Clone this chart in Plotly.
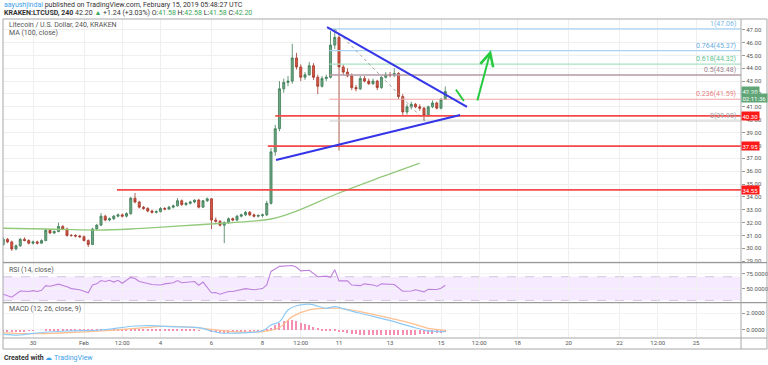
import pandas as pd
import plotly.graph_objects as go

# ---------------- data ----------------
candle_start = "2019-01-28 20:00"
opens = [30.30,30.70,30.50,29.95,30.20,30.70,30.60,30.40,30.50,30.40,
         30.60,31.40,31.20,31.30,31.70,31.50,31.00,31.00,30.95,30.90,
         30.60,30.30,31.50,31.80,32.50,32.20,32.30,32.50,32.60,32.50,
         32.70,33.90,33.60,33.20,33.10,32.90,32.80,32.85,33.10,33.05,
         33.20,33.30,33.70,33.40,33.50,33.60,33.75,33.20,33.70,33.85,
         32.20,32.10,31.80,32.00,32.30,32.20,32.50,32.60,32.80,32.60,
         32.50,32.55,32.60,33.50,37.50,39.30,42.40,42.90,43.00,44.80,
         44.10,43.30,43.50,44.20,43.30,42.60,43.20,43.30,45.80,46.40,
         44.10,43.70,43.40,42.50,42.40,43.20,43.00,42.80,43.00,42.50,
         43.30,43.50,43.45,43.60,41.80,40.60,41.00,41.20,41.00,40.90,
         40.30,41.00,41.30,40.90,41.58]
highs = [30.85,30.80,30.60,30.30,30.80,30.85,30.70,30.60,30.60,30.70,
         31.55,31.50,31.40,32.00,31.80,31.60,31.10,31.10,31.05,31.00,
         30.70,31.60,31.90,32.75,32.60,32.40,32.60,32.70,32.70,32.80,
         34.00,34.30,33.70,33.30,33.20,33.00,32.95,33.20,33.20,33.30,
         33.40,33.90,33.80,33.60,33.70,33.80,33.85,33.75,33.95,33.90,
         32.40,32.20,32.10,32.40,32.40,32.60,32.70,32.90,32.90,32.70,
         32.65,32.70,33.70,37.80,39.60,43.00,43.20,43.40,45.90,45.20,
         44.30,43.70,44.50,44.40,43.50,43.40,43.50,46.90,47.06,46.60,
         44.30,44.00,43.60,42.70,43.40,43.40,43.20,43.20,43.10,43.40,
         43.70,43.70,44.00,43.70,42.00,41.20,41.40,41.30,41.20,41.00,
         41.10,41.50,41.40,41.70,42.58]
lows = [30.20,30.40,29.80,29.85,30.10,30.55,30.30,30.30,30.30,30.35,
        30.55,31.10,31.10,31.25,31.40,30.90,30.90,30.85,30.80,30.55,
        30.10,30.25,31.40,31.75,32.10,32.10,32.20,32.40,32.40,32.40,
        32.60,33.50,33.10,33.00,32.80,32.70,32.70,32.80,32.95,33.00,
        33.10,33.25,33.30,33.30,33.40,33.50,33.10,33.15,33.60,31.50,
        32.00,31.70,30.40,31.90,32.10,32.10,32.40,32.50,32.50,32.40,
        32.40,32.40,32.50,33.40,37.20,39.10,42.10,42.60,42.80,43.90,
        43.00,43.10,43.40,43.10,42.00,42.50,43.00,43.20,45.50,37.60,
        43.50,43.30,42.30,42.20,42.30,42.90,42.70,42.70,42.30,42.40,
        43.20,43.30,43.30,41.60,40.30,40.40,40.80,40.90,40.70,39.90,
        40.20,40.90,40.80,40.80,41.58]
closes = [30.70,30.50,29.95,30.20,30.70,30.60,30.40,30.50,30.40,30.60,
          31.40,31.20,31.30,31.70,31.50,31.00,31.00,30.95,30.90,30.60,
          30.30,31.50,31.80,32.50,32.20,32.30,32.50,32.60,32.50,32.70,
          33.90,33.60,33.20,33.10,32.90,32.80,32.85,33.10,33.05,33.20,
          33.30,33.70,33.40,33.50,33.60,33.75,33.20,33.70,33.85,32.20,
          32.10,31.80,32.00,32.30,32.20,32.50,32.60,32.80,32.60,32.50,
          32.55,32.60,33.50,37.50,39.30,42.40,42.90,43.00,44.80,44.10,
          43.30,43.50,44.20,43.30,42.60,43.20,43.30,45.80,46.40,44.10,
          43.70,43.40,42.50,42.40,43.20,43.00,42.80,43.00,42.50,43.30,
          43.50,43.45,43.60,41.80,40.60,41.00,41.20,41.00,40.90,40.30,
          41.00,41.30,40.90,41.58,42.20]

ma_idx = [0, 10, 22, 30, 39, 47, 54, 60, 63, 66, 70, 79, 89, 98]
ma_val = [31.56, 31.50, 31.42, 31.50, 31.68, 31.85, 32.00, 32.15, 32.28, 32.55, 33.03, 34.30, 35.55, 36.63]

rsi_idx = [0,2,4,6,7,8,9,10,11,13,15,16,18,20,21,22,23,24,25,26,27,28,30,31,32,34,35,37,38,40,
           41,42,44,45,46,47,49,50,51,53,54,56,57,59,61,62,63,65,68,69,70,72,74,76,77,78,79,81,
           82,84,85,87,88,89,91,92,94,96,97,99,100,102,103,104]
rsi_val = [40.5,35.4,46,45,46.5,45,47,55,54,57.5,53,50,48,43,56,58,63.6,62,64,61,64,59,69,67,62,59,57,56,58,60,
           63.5,60,61,62,55.6,61,43,43.5,40.5,45,45,47.5,50,48,50,56,79,87.5,89,86,80,81,70,71,69,82,63,63,
           56,55,58,56,54,58,57.5,57,45.5,46,48,44.5,49,48.5,50.5,55.6]

macd_idx = [0,4,7,15,23,31,35,39,46,49,51,54,61,63,65,67,69,72,76,78,81,84,92,96,100,104]
macd_val = [-0.52,-0.6,-0.4,-0.12,0.0,0.48,0.52,0.4,0.28,-0.12,-0.36,-0.38,-0.1,0.6,1.0,2.4,2.9,3.1,2.6,2.8,2.4,2.0,1.0,0.4,-0.1,-0.2]
signal_idx = [0,7,23,35,39,46,54,61,65,68,72,76,79,84,92,96,100,104]
signal_val = [-0.35,-0.45,-0.1,0.35,0.45,0.25,-0.2,-0.2,0.3,1.6,2.4,2.6,2.6,2.2,1.3,0.8,0.2,-0.05]
hist_val = [-0.2,-0.25,-0.2,-0.15,-0.1,-0.1,-0.05,-0.05,0.0,0.0,
            0.05,0.08,0.1,0.12,0.12,0.1,0.1,0.08,0.06,0.05,
            0.05,0.08,0.1,0.12,0.14,0.15,0.15,0.14,0.13,0.12,
            0.15,0.15,0.14,0.12,0.1,0.1,0.08,0.08,0.06,0.06,
            0.06,0.06,0.05,0.05,0.05,0.04,0.02,0.0,0.0,-0.15,
            -0.22,-0.28,-0.3,-0.28,-0.25,-0.2,-0.15,-0.12,-0.1,-0.08,
            -0.05,-0.02,0.1,0.3,0.6,0.9,1.1,1.2,1.2,1.1,
            0.9,0.7,0.6,0.4,0.25,0.15,0.1,0.1,0.05,-0.1,
            -0.2,-0.35,-0.45,-0.5,-0.55,-0.55,-0.6,-0.6,-0.6,-0.6,
            -0.6,-0.6,-0.6,-0.6,-0.6,-0.6,-0.55,-0.55,-0.5,-0.5,
            -0.45,-0.4,-0.35,-0.3,-0.25]

tick_dates = ["2019-01-30", "2019-02-01", "2019-02-02 12:00", "2019-02-04", "2019-02-06", "2019-02-08",
              "2019-02-09 12:00", "2019-02-11", "2019-02-13", "2019-02-15", "2019-02-16 12:00",
              "2019-02-18", "2019-02-20", "2019-02-22", "2019-02-23 12:00", "2019-02-25"]
tick_text = ["30", "Feb", "12:00", "4", "6", "8", "12:00", "11", "13", "15", "12:00", "18", "20", "22", "12:00", "25"]

sr_levels = [40.30, 37.95, 34.55]
sr_starts = ["2019-02-08 12:00", "2019-02-08 05:00", "2019-02-02 07:00"]

fib_ratios = ["1", "0.764", "0.618", "0.5", "0.236", "0"]
fib_prices = [47.06, 45.37, 44.32, 43.48, 41.59, 39.90]
fib_colors = ["#a9d3f2", "#a9d3f2", "#a8e2c4", "#b59aa6", "#f2a3a3", "#c8c8c8"]
fib_text_colors = ["#7ab8e6", "#6aaee0", "#5cc48f", "#9c7f8c", "#e88080", "#a0a0a0"]
fib_start = "2019-02-10 15:00"

x_range = ["2019-01-28 19:46", "2019-02-26 18:21"]

dates = pd.date_range(candle_start, periods=len(closes), freq="4h")

# ---------------- figure ----------------
fig = go.Figure()

fig.add_trace(go.Candlestick(
    x=dates, open=opens, high=highs, low=lows, close=closes,
    increasing=dict(fillcolor="#6ba583", line=dict(color="#3f7d57", width=0.8)),
    decreasing=dict(fillcolor="#d75442", line=dict(color="#a33a2c", width=0.8)),
    whiskerwidth=0, hoverinfo="skip", showlegend=False, xaxis="x", yaxis="y"))

fig.add_trace(go.Scatter(x=dates[ma_idx], y=ma_val, mode="lines", line=dict(color="#92c97a", width=1.3),
                         line_shape="spline", hoverinfo="skip", showlegend=False, xaxis="x", yaxis="y"))

fig.add_trace(go.Scatter(x=dates[rsi_idx], y=rsi_val, mode="lines", line=dict(color="#bf82dc", width=1.1),
                         hoverinfo="skip", showlegend=False, xaxis="x", yaxis="y2"))

fig.add_trace(go.Bar(x=dates, y=hist_val, marker=dict(color="#f48fb1", line=dict(width=0)),
                     width=4 * 3600 * 1000 * 0.3, hoverinfo="skip", showlegend=False, xaxis="x", yaxis="y3"))
fig.add_trace(go.Scatter(x=dates[signal_idx], y=signal_val, mode="lines", line=dict(color="#ffbf8f", width=1.2),
                         line_shape="spline", hoverinfo="skip", showlegend=False, xaxis="x", yaxis="y3"))
fig.add_trace(go.Scatter(x=dates[macd_idx], y=macd_val, mode="lines", line=dict(color="#8ccaf7", width=1.2),
                         line_shape="spline", hoverinfo="skip", showlegend=False, xaxis="x", yaxis="y3"))

shapes = []
annos = []

shapes.append(dict(type="rect", xref="paper", yref="y2", x0=0, x1=1, y0=30, y1=70,
                   fillcolor="rgba(170,80,255,0.12)", line=dict(width=0), layer="below"))
for lv in (30, 70):
    shapes.append(dict(type="line", xref="paper", yref="y2", x0=0, x1=1, y0=lv, y1=lv,
                       line=dict(color="#c9b8d6", width=0.8, dash="dash"), layer="below"))

for r, p, c, tc in zip(fib_ratios, fib_prices, fib_colors, fib_text_colors):
    shapes.append(dict(type="line", xref="x", yref="y", x0=fib_start, x1=x_range[1], y0=p, y1=p,
                       line=dict(color=c, width=1.5 if r == "0.5" else 1.2)))
    annos.append(dict(xref="paper", yref="y", x=0.9955, y=p, xanchor="right", yanchor="bottom",
                      text=f"{r}({p:.2f})", showarrow=False, font=dict(size=7, color=tc), yshift=-1))
shapes.append(dict(type="line", xref="x", yref="y", x0="2019-02-10 20:00", x1="2019-02-14 09:00",
                   y0=fib_prices[0], y1=fib_prices[-1], line=dict(color="#a0a0a0", width=1, dash="dot")))

for p, s in zip(sr_levels, sr_starts):
    shapes.append(dict(type="line", xref="x", yref="y", x0=s, x1=x_range[1], y0=p, y1=p,
                       line=dict(color="#f44a4a", width=1.8)))
    annos.append(dict(xref="paper", yref="y", x=1.0, y=p, xanchor="left", yanchor="middle",
                      text=f"{p:.2f}", showarrow=False, font=dict(size=6, color="white"),
                      bgcolor="#ff1a1a", borderpad=0.5))

shapes.append(dict(type="line", xref="x", yref="y", x0="2019-02-10 12:45", y0=47.2,
                   x1="2019-02-16 00:30", y1=40.99, line=dict(color="#3434e8", width=2)))
shapes.append(dict(type="line", xref="x", yref="y", x0="2019-02-08 12:45", y0=36.87,
                   x1="2019-02-15 18:00", y1=40.37, line=dict(color="#3434e8", width=2)))

shapes.append(dict(type="line", xref="x", yref="y", x0="2019-02-15 14:00", y0=42.35,
                   x1="2019-02-15 21:30", y1=41.45, line=dict(color="#27c93f", width=2)))
annos.append(dict(xref="x", yref="y", axref="x", ayref="y", x="2019-02-16 23:00", y=45.42,
                  ax="2019-02-16 09:50", ay=41.38, text="", showarrow=True, arrowhead=5,
                  arrowsize=1.3, arrowwidth=2, arrowcolor="#27c93f", standoff=0))

annos.append(dict(xref="paper", yref="y", x=1.0, y=42.20, xanchor="left", yanchor="middle",
                  text="42.20", showarrow=False, font=dict(size=6, color="white"),
                  bgcolor="#5fa576", borderpad=0.5))
annos.append(dict(xref="paper", yref="y", x=1.0, y=42.20, xanchor="left", yanchor="middle", yshift=-7,
                  text="02:11:36", showarrow=False, font=dict(size=6, color="white"),
                  bgcolor="#5fa576", borderpad=0.5))

fx = 1.0352
fb = -0.0345
frame_col = "#a8a8a8"
for (x0, y0, x1, y1, c, w) in [
    (0, 1, fx, 1, frame_col, 1), (0, fb, fx, fb, frame_col, 1),
    (0, fb, 0, 1, frame_col, 1), (fx, fb, fx, 1, frame_col, 1),
    (1, fb, 1, 1, frame_col, 1), (0, 0, fx, 0, frame_col, 1),
    (0, 0.236, fx, 0.236, "#9a9a9a", 1.2), (0, 0.1107, fx, 0.1107, "#9a9a9a", 1.2)]:
    shapes.append(dict(type="line", xref="paper", yref="paper", x0=x0, y0=y0, x1=x1, y1=y1,
                       line=dict(color=c, width=w)))

F = "Roboto, Open Sans, sans-serif"
annos += [
    dict(xref="paper", yref="paper", x=-0.0014, y=1.0439, xanchor="left", yanchor="middle", showarrow=False,
         text="<span style='color:#3ea0e8'>aayushjindal</span> published on TradingView.com, February 15, 2019 05:48:27 UTC",
         font=dict(size=7, color="#333", family=F)),
    dict(xref="paper", yref="paper", x=-0.0014, y=1.0188, xanchor="left", yanchor="middle", showarrow=False,
         text="<b>KRAKEN:LTCUSD, 240</b> 42.20 <span style='color:#3aa657'>▲</span> +1.24 (+3.03%) O:<span style='color:#3aa657'>41.58</span> H:<span style='color:#3aa657'>42.58</span> L:<span style='color:#3aa657'>41.58</span> C:<span style='color:#3aa657'>42.20</span>",
         font=dict(size=7, color="#333", family=F)),
    dict(xref="paper", yref="paper", x=0.0054, y=0.981, xanchor="left", yanchor="middle", showarrow=False,
         text="Litecoin / U.S. Dollar, 240, KRAKEN", font=dict(size=7, color="#555", family=F)),
    dict(xref="paper", yref="paper", x=0.0054, y=0.956, xanchor="left", yanchor="middle", showarrow=False,
         text="MA (100, close)", font=dict(size=7, color="#555", family=F)),
    dict(xref="paper", yref="paper", x=0.0054, y=0.213, xanchor="left", yanchor="middle", showarrow=False,
         text="RSI (14, close)", font=dict(size=7, color="#555", family=F)),
    dict(xref="paper", yref="paper", x=0.0054, y=0.0909, xanchor="left", yanchor="middle", showarrow=False,
         text="MACD (12, 26, close, 9)", font=dict(size=7, color="#555", family=F)),
    dict(xref="paper", yref="paper", x=-0.0014, y=-0.0627, xanchor="left", yanchor="middle", showarrow=False,
         text="<b>Created with</b> <span style='color:#3ea0e8'>☁ TradingView</span>",
         font=dict(size=7, color="#333", family=F)),
]

price_ticks = list(range(29, 48))
fig.update_layout(
    width=768, height=365,
    margin=dict(l=3, r=27, t=19, b=27, pad=0),
    paper_bgcolor="white", plot_bgcolor="white",
    font=dict(family=F, size=6, color="#555"),
    showlegend=False, bargap=0,
    xaxis=dict(domain=[0, 1], anchor="y3", type="date", range=x_range, rangeslider=dict(visible=False),
               tickvals=tick_dates, ticktext=tick_text, showgrid=True, gridcolor="#efefef", gridwidth=1,
               ticks="", tickfont=dict(size=6, color="#555"), showline=False, zeroline=False, fixedrange=True),
    yaxis=dict(domain=[0.236, 1], side="right", range=[28.88, 47.83], tickvals=price_ticks,
               ticktext=[f"{v:.2f}" for v in price_ticks], showgrid=True, gridcolor="#efefef",
               ticks="outside", ticklen=3, tickcolor="#999", tickfont=dict(size=6, color="#555"),
               zeroline=False, showline=False, automargin=False),
    yaxis2=dict(domain=[0.1107, 0.236], side="right", anchor="x", range=[26.2, 93.7], tickvals=[50, 75],
                ticktext=["50.0000", "75.0000"], showgrid=True, gridcolor="#f3f3f3", automargin=False,
                ticks="outside", ticklen=3, tickcolor="#999", tickfont=dict(size=6, color="#555"), zeroline=False),
    yaxis3=dict(domain=[0, 0.1107], side="right", anchor="x", range=[-0.96, 3.27], tickvals=[0, 2],
                ticktext=["0.0000", "2.0000"], showgrid=True, gridcolor="#f3f3f3", automargin=False,
                ticks="outside", ticklen=3, tickcolor="#999", tickfont=dict(size=6, color="#555"), zeroline=False),
    shapes=shapes, annotations=annos,
)

fig.write_html("out.html", config={"displayModeBar": False},
               post_script="document.body.style.margin='0px';document.body.style.padding='0px';")
